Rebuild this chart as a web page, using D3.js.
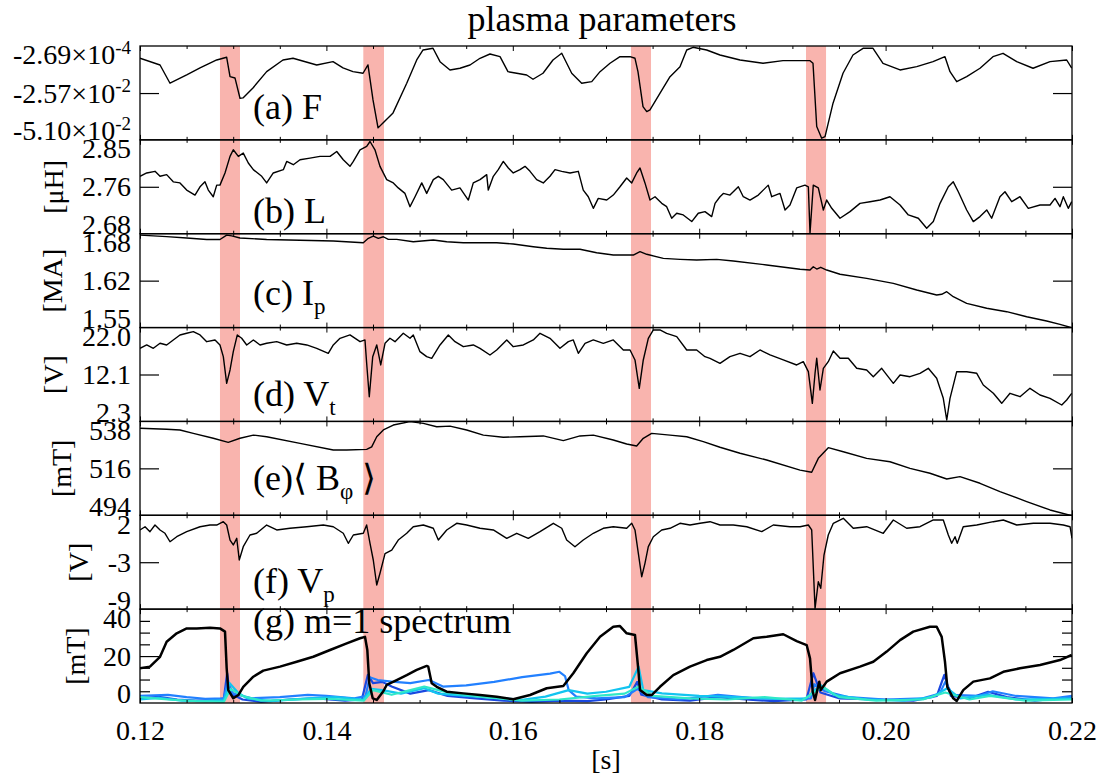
<!DOCTYPE html>
<html>
<head>
<meta charset="utf-8">
<script src="https://cdn.jsdelivr.net/npm/d3@7"></script>
<style>
body { margin: 0; background: #fff; }
text { font-family: "Liberation Serif", "Times New Roman", serif; fill: #000; }
</style>
</head>
<body>
<svg id="chart" width="1105" height="776"></svg>
<script>
// time axis
var xDomain = [0.12, 0.22];
var xMajor = [0.12, 0.14, 0.16, 0.18, 0.20, 0.22];
var xMajorLabels = ["0.12", "0.14", "0.16", "0.18", "0.20", "0.22"];
var xMinor = [0.125, 0.13, 0.135, 0.145, 0.15, 0.155, 0.165, 0.17, 0.175, 0.185, 0.19, 0.195, 0.205, 0.21, 0.215];

// shaded crash windows
var bandStart = [0.12858, 0.14396, 0.17268, 0.19146];
var bandEnd = [0.13073, 0.14618, 0.17483, 0.19361];

// panel texts
var panelLabel = ["(a) F", "(b) L", "(c) I", "(d) V", "(e)\u27E8 B", "(f) V", "(g) m=1 spectrum"];
var panelSub = ["", "", "p", "t", "\u03C6", "p", ""];
var panelTail = ["", "", "", "", " \u27E9", "", ""];
var panelUnit = ["", "[\u03BCH]", "[MA]", "[V]", "[mT]", "[V]", "[mT]"];

// y ticks (bottom, middle, top) and their labels
var yTicks = [
  [-0.0510, -0.0257, -0.000269],
  [2.68, 2.765, 2.85],
  [1.55, 1.615, 1.68],
  [2.3, 12.15, 22.0],
  [494, 516, 538],
  [-9, -3.5, 2],
  [0, 20, 40]
];
var yTickLabels = [
  ["-5.10\u00D710", "-2.57\u00D710", "-2.69\u00D710"],
  ["2.68", "2.76", "2.85"],
  ["1.55", "1.62", "1.68"],
  ["2.3", "12.1", "22.0"],
  ["494", "516", "538"],
  ["-9", "-3", "2"],
  ["0", "20", "40"]
];
var yTickSup = ["-2", "-2", "-4"];
var gMinor = [5, 10, 15, 25, 30, 35];

// (a) F
var seriesF = [[0.12000,-0.00691],[0.12215,-0.01052],[0.12322,-0.02040],[0.12501,-0.01592],[0.12644,-0.01214],[0.12823,-0.00783],[0.12930,-0.00637],[0.12966,-0.01684],[0.13019,-0.01754],[0.13073,-0.02850],[0.13105,-0.02833],[0.13212,-0.02294],[0.13359,-0.01414],[0.13534,-0.00783],[0.13642,-0.00691],[0.13896,-0.01052],[0.14071,-0.00874],[0.14178,-0.01214],[0.14285,-0.01414],[0.14393,-0.01500],[0.14446,-0.01052],[0.14500,-0.02941],[0.14554,-0.04452],[0.14607,-0.04183],[0.14715,-0.03643],[0.14862,-0.02040],[0.14969,-0.00783],[0.15037,-0.00243],[0.15144,-0.00151],[0.15219,-0.00874],[0.15326,-0.01322],[0.15433,-0.01230],[0.15541,-0.01052],[0.15648,-0.00691],[0.15755,-0.00459],[0.15863,-0.00604],[0.15948,-0.01414],[0.16042,-0.01500],[0.16149,-0.01592],[0.16217,-0.01824],[0.16324,-0.01500],[0.16431,-0.00783],[0.16525,-0.00421],[0.16632,-0.01500],[0.16739,-0.02040],[0.16847,-0.01954],[0.16936,-0.01414],[0.17043,-0.00961],[0.17150,-0.00604],[0.17258,-0.00604],[0.17311,-0.00691],[0.17343,-0.01414],[0.17397,-0.03303],[0.17437,-0.03573],[0.17472,-0.03481],[0.17580,-0.02580],[0.17687,-0.01684],[0.17794,-0.01144],[0.17866,-0.00243],[0.17934,-0.00097],[0.18080,-0.00243],[0.18223,-0.00513],[0.18438,-0.00783],[0.18685,-0.00961],[0.18899,-0.00820],[0.19189,-0.00820],[0.19221,-0.00961],[0.19261,-0.04382],[0.19314,-0.05008],[0.19350,-0.04922],[0.19436,-0.03119],[0.19543,-0.01500],[0.19650,-0.00513],[0.19758,-0.00151],[0.19865,-0.00151],[0.19972,-0.00961],[0.20155,-0.01322],[0.20334,-0.01144],[0.20509,-0.00874],[0.20637,-0.00604],[0.20691,-0.01414],[0.20763,-0.01954],[0.20870,-0.01684],[0.21013,-0.01230],[0.21152,-0.00604],[0.21260,-0.00421],[0.21407,-0.00874],[0.21582,-0.01230],[0.21764,-0.00874],[0.21943,-0.00783],[0.21997,-0.01230]];

// (b) L [uH]
var seriesL = [[0.12000,2.784],[0.12072,2.790],[0.12161,2.793],[0.12215,2.784],[0.12286,2.787],[0.12357,2.774],[0.12429,2.772],[0.12501,2.759],[0.12590,2.750],[0.12644,2.765],[0.12697,2.774],[0.12733,2.759],[0.12786,2.747],[0.12823,2.768],[0.12858,2.768],[0.12912,2.790],[0.12966,2.820],[0.13001,2.832],[0.13055,2.820],[0.13108,2.826],[0.13162,2.808],[0.13216,2.796],[0.13306,2.784],[0.13359,2.772],[0.13430,2.790],[0.13538,2.796],[0.13574,2.811],[0.13645,2.805],[0.13717,2.814],[0.13824,2.817],[0.13931,2.820],[0.14039,2.820],[0.14111,2.829],[0.14181,2.814],[0.14253,2.802],[0.14289,2.811],[0.14361,2.832],[0.14432,2.838],[0.14468,2.847],[0.14521,2.832],[0.14575,2.802],[0.14647,2.778],[0.14718,2.772],[0.14771,2.763],[0.14843,2.753],[0.14897,2.729],[0.14951,2.747],[0.15023,2.772],[0.15076,2.753],[0.15147,2.778],[0.15201,2.784],[0.15254,2.778],[0.15344,2.759],[0.15433,2.763],[0.15523,2.741],[0.15576,2.772],[0.15648,2.778],[0.15720,2.787],[0.15737,2.759],[0.15791,2.784],[0.15844,2.796],[0.15898,2.811],[0.15952,2.799],[0.16005,2.790],[0.16077,2.796],[0.16131,2.802],[0.16185,2.793],[0.16256,2.778],[0.16327,2.772],[0.16399,2.784],[0.16453,2.796],[0.16525,2.793],[0.16614,2.790],[0.16703,2.793],[0.16756,2.759],[0.16810,2.747],[0.16864,2.726],[0.16917,2.744],[0.17008,2.741],[0.17078,2.750],[0.17150,2.765],[0.17222,2.781],[0.17276,2.772],[0.17329,2.790],[0.17365,2.799],[0.17418,2.772],[0.17472,2.741],[0.17526,2.747],[0.17598,2.735],[0.17651,2.729],[0.17705,2.708],[0.17759,2.717],[0.17829,2.714],[0.17920,2.702],[0.17990,2.717],[0.18062,2.720],[0.18134,2.711],[0.18170,2.735],[0.18223,2.747],[0.18259,2.753],[0.18330,2.750],[0.18420,2.765],[0.18473,2.747],[0.18545,2.741],[0.18634,2.750],[0.18741,2.768],[0.18778,2.747],[0.18867,2.753],[0.18921,2.723],[0.18974,2.732],[0.19046,2.763],[0.19135,2.768],[0.19171,2.765],[0.19189,2.681],[0.19224,2.768],[0.19278,2.763],[0.19332,2.723],[0.19368,2.741],[0.19422,2.726],[0.19511,2.708],[0.19618,2.720],[0.19725,2.735],[0.19833,2.738],[0.19940,2.741],[0.20047,2.747],[0.20155,2.732],[0.20244,2.714],[0.20351,2.708],[0.20441,2.690],[0.20512,2.702],[0.20584,2.735],[0.20673,2.765],[0.20726,2.774],[0.20780,2.756],[0.20870,2.723],[0.20941,2.702],[0.21013,2.711],[0.21085,2.723],[0.21138,2.708],[0.21227,2.747],[0.21281,2.756],[0.21353,2.738],[0.21442,2.747],[0.21531,2.726],[0.21657,2.732],[0.21764,2.732],[0.21818,2.744],[0.21871,2.729],[0.21907,2.747],[0.21960,2.726],[0.21997,2.738]];

// (c) Ip [MA]
var seriesIp = [[0.12000,1.678],[0.12286,1.676],[0.12501,1.674],[0.12716,1.672],[0.12858,1.672],[0.12930,1.678],[0.12984,1.677],[0.13073,1.674],[0.13359,1.672],[0.13717,1.671],[0.14074,1.670],[0.14396,1.6675],[0.14450,1.6736],[0.14503,1.6768],[0.14557,1.6736],[0.14611,1.6758],[0.14664,1.6722],[0.14754,1.6722],[0.14932,1.6689],[0.15147,1.6713],[0.15291,1.6689],[0.15469,1.6675],[0.15827,1.6675],[0.16005,1.6657],[0.16220,1.6620],[0.16364,1.6598],[0.16542,1.6584],[0.16721,1.6584],[0.16900,1.6537],[0.17078,1.6505],[0.17293,1.6505],[0.17365,1.6551],[0.17437,1.6515],[0.17615,1.6459],[0.17794,1.6445],[0.17973,1.6436],[0.18188,1.6445],[0.18366,1.6422],[0.18724,1.6367],[0.19082,1.6307],[0.19189,1.6297],[0.19224,1.6343],[0.19261,1.6311],[0.19304,1.6335],[0.19368,1.6297],[0.19511,1.6238],[0.19797,1.6182],[0.20083,1.6113],[0.20334,1.6020],[0.20548,1.5951],[0.20602,1.5961],[0.20656,1.5997],[0.20726,1.5927],[0.20870,1.5836],[0.21085,1.5767],[0.21299,1.5720],[0.21514,1.5650],[0.21728,1.5591],[0.21871,1.5545],[0.21997,1.5498]];

// (d) Vt [V]
var seriesVt = [[0.12000,17.65],[0.12072,18.35],[0.12143,17.65],[0.12215,18.70],[0.12286,18.35],[0.12357,19.40],[0.12429,20.45],[0.12501,20.80],[0.12572,21.14],[0.12644,20.45],[0.12716,19.04],[0.12805,19.40],[0.12858,18.35],[0.12894,15.89],[0.12930,10.30],[0.12966,13.10],[0.13001,16.94],[0.13044,20.45],[0.13091,19.75],[0.13145,18.35],[0.13216,19.40],[0.13288,18.35],[0.13359,18.70],[0.13467,19.04],[0.13574,18.35],[0.13681,18.70],[0.13789,18.35],[0.13896,17.65],[0.14020,16.60],[0.14074,18.35],[0.14146,19.75],[0.14253,20.45],[0.14361,19.04],[0.14414,19.40],[0.14432,14.50],[0.14460,7.49],[0.14497,15.89],[0.14540,18.35],[0.14583,14.15],[0.14629,18.70],[0.14682,19.75],[0.14736,19.04],[0.14825,20.80],[0.14897,19.75],[0.14932,20.45],[0.15004,16.94],[0.15076,15.89],[0.15130,15.55],[0.15219,18.35],[0.15308,20.45],[0.15380,19.04],[0.15469,17.99],[0.15576,18.35],[0.15648,17.65],[0.15755,16.25],[0.15827,17.30],[0.15935,19.40],[0.16005,17.99],[0.16113,18.35],[0.16220,19.40],[0.16292,20.80],[0.16399,19.75],[0.16506,17.65],[0.16596,19.04],[0.16649,19.40],[0.16703,16.60],[0.16775,18.70],[0.16864,19.40],[0.16971,18.70],[0.17078,19.40],[0.17186,17.30],[0.17258,17.30],[0.17311,15.20],[0.17357,9.25],[0.17400,15.20],[0.17454,19.75],[0.17508,21.50],[0.17579,21.50],[0.17651,20.80],[0.17759,20.09],[0.17866,17.30],[0.17973,17.30],[0.18062,15.89],[0.18116,15.55],[0.18223,14.50],[0.18330,15.89],[0.18438,16.60],[0.18545,15.89],[0.18652,17.30],[0.18760,16.25],[0.18902,15.20],[0.19046,14.15],[0.19117,14.84],[0.19171,12.74],[0.19214,6.10],[0.19243,12.40],[0.19261,15.55],[0.19296,8.90],[0.19332,13.45],[0.19385,14.84],[0.19439,17.09],[0.19511,15.55],[0.19600,15.55],[0.19690,13.45],[0.19797,13.10],[0.19868,11.69],[0.19958,13.45],[0.20083,10.30],[0.20155,12.05],[0.20262,11.69],[0.20369,12.40],[0.20458,13.45],[0.20548,11.35],[0.20619,7.15],[0.20656,2.60],[0.20691,7.15],[0.20763,12.74],[0.20870,12.74],[0.20978,12.40],[0.21048,9.95],[0.21156,8.20],[0.21246,6.10],[0.21335,8.20],[0.21442,7.49],[0.21549,9.25],[0.21657,7.85],[0.21764,7.15],[0.21890,5.75],[0.21943,6.80],[0.21997,8.20]];

// (e) <B_phi> [mT]
var seriesB = [[0.12000,534.8],[0.12286,534.3],[0.12429,534.0],[0.12572,532.4],[0.12786,530.1],[0.12947,528.2],[0.13073,530.1],[0.13216,531.6],[0.13359,530.8],[0.13717,527.7],[0.14074,524.6],[0.14218,524.6],[0.14432,524.9],[0.14486,526.1],[0.14540,530.8],[0.14611,534.0],[0.14718,536.3],[0.14897,537.9],[0.15040,537.1],[0.15184,535.5],[0.15326,535.8],[0.15505,534.0],[0.15684,531.6],[0.15898,530.6],[0.16077,530.8],[0.16327,531.2],[0.16542,529.0],[0.16721,531.2],[0.16864,531.6],[0.17078,529.3],[0.17222,527.4],[0.17329,526.5],[0.17400,530.1],[0.17490,532.4],[0.17687,531.6],[0.17866,530.8],[0.18044,528.5],[0.18223,525.9],[0.18438,523.1],[0.18724,519.9],[0.19082,515.2],[0.19207,514.2],[0.19278,520.7],[0.19385,525.7],[0.19546,523.8],[0.19797,520.7],[0.20047,519.1],[0.20262,516.0],[0.20476,513.7],[0.20656,511.0],[0.20798,512.1],[0.21013,509.0],[0.21227,505.1],[0.21514,500.4],[0.21764,496.5],[0.21997,493.8]];

// (f) Vp [V]
var seriesVp = [[0.12000,0.28],[0.12054,0.66],[0.12107,0.08],[0.12161,0.86],[0.12215,0.28],[0.12268,-0.11],[0.12322,-1.10],[0.12394,-0.51],[0.12501,0.08],[0.12644,0.66],[0.12751,0.86],[0.12823,0.86],[0.12894,1.25],[0.12930,0.86],[0.12966,-0.90],[0.13001,-1.48],[0.13038,-0.70],[0.13065,-3.24],[0.13108,-1.68],[0.13180,-0.31],[0.13252,-0.11],[0.13359,0.86],[0.13467,0.28],[0.13609,0.48],[0.13789,0.66],[0.13967,0.86],[0.14074,0.66],[0.14181,-0.11],[0.14235,-1.28],[0.14289,-0.31],[0.14396,-0.11],[0.14432,0.86],[0.14468,-1.28],[0.14503,-3.24],[0.14540,-6.17],[0.14575,-4.80],[0.14629,-2.50],[0.14701,-2.07],[0.14771,-0.90],[0.14862,-0.11],[0.14932,0.66],[0.15040,0.86],[0.15147,0.48],[0.15201,-0.90],[0.15291,0.28],[0.15398,1.06],[0.15505,0.86],[0.15648,0.48],[0.15791,0.28],[0.15935,-0.70],[0.16042,-0.11],[0.16166,-0.70],[0.16292,0.08],[0.16435,1.06],[0.16525,0.48],[0.16578,-0.90],[0.16667,-1.68],[0.16756,-0.90],[0.16864,-0.11],[0.16971,0.48],[0.17078,0.66],[0.17222,0.48],[0.17276,1.06],[0.17311,0.28],[0.17347,-2.46],[0.17383,-5.20],[0.17418,-3.63],[0.17454,-1.68],[0.17508,-0.51],[0.17598,0.28],[0.17687,0.48],[0.17794,1.06],[0.17901,0.86],[0.18009,1.06],[0.18116,1.25],[0.18223,0.86],[0.18366,0.86],[0.18510,0.66],[0.18671,0.08],[0.18795,0.86],[0.18974,0.66],[0.19082,0.66],[0.19171,0.86],[0.19207,0.28],[0.19243,-8.91],[0.19278,-5.79],[0.19304,-6.56],[0.19339,-2.66],[0.19385,-0.31],[0.19439,1.06],[0.19546,1.65],[0.19653,0.48],[0.19797,0.66],[0.19975,-0.11],[0.20083,1.45],[0.20226,0.48],[0.20369,0.66],[0.20512,1.45],[0.20619,1.45],[0.20673,-0.31],[0.20709,-1.28],[0.20745,-0.51],[0.20769,-1.28],[0.20833,0.66],[0.20978,0.86],[0.21156,1.25],[0.21263,1.45],[0.21407,0.86],[0.21585,1.06],[0.21764,1.06],[0.21907,0.86],[0.21979,0.66],[0.22000,-0.70]];

// (g) m=1 spectrum [mT]: total (black) and single modes (blues, cyans)
var seriesM1 = [[0.12000,14.8],[0.12107,15.5],[0.12215,19.7],[0.12286,26.1],[0.12394,29.7],[0.12501,31.8],[0.12608,31.8],[0.12751,32.1],[0.12858,31.8],[0.12912,30.4],[0.12930,14.8],[0.12947,5.5],[0.13001,2.0],[0.13055,3.4],[0.13108,6.9],[0.13216,11.2],[0.13323,13.8],[0.13502,15.5],[0.13681,17.6],[0.13859,19.7],[0.14039,22.6],[0.14218,25.4],[0.14361,27.6],[0.14414,28.2],[0.14439,22.6],[0.14460,8.4],[0.14497,2.0],[0.14540,1.3],[0.14611,5.0],[0.14647,7.7],[0.14754,9.8],[0.14862,11.9],[0.14969,14.1],[0.15076,15.8],[0.15093,15.5],[0.15130,8.4],[0.15184,6.9],[0.15291,4.8],[0.15469,4.1],[0.15648,3.4],[0.15827,2.7],[0.16005,1.6],[0.16185,3.4],[0.16364,6.3],[0.16542,7.2],[0.16649,12.7],[0.16793,21.2],[0.16936,28.2],[0.17078,32.5],[0.17150,32.8],[0.17222,29.7],[0.17311,29.0],[0.17347,14.1],[0.17365,5.5],[0.17437,3.4],[0.17490,3.4],[0.17579,6.9],[0.17722,11.9],[0.17901,15.5],[0.18080,18.3],[0.18223,19.7],[0.18366,22.6],[0.18581,27.6],[0.18724,28.2],[0.18902,29.3],[0.19046,26.4],[0.19153,24.7],[0.19189,19.0],[0.19218,4.8],[0.19243,1.3],[0.19267,5.5],[0.19289,9.1],[0.19304,5.5],[0.19368,9.1],[0.19511,12.7],[0.19725,15.5],[0.19868,17.6],[0.20012,21.9],[0.20155,26.8],[0.20297,30.4],[0.20476,32.5],[0.20548,32.5],[0.20602,28.2],[0.20637,17.6],[0.20662,6.9],[0.20726,2.0],[0.20763,0.9],[0.20833,5.5],[0.20941,9.1],[0.21120,10.5],[0.21263,13.3],[0.21442,14.8],[0.21657,16.2],[0.21871,18.3],[0.21997,20.5]];
var seriesMode1 = [[0.1200,2.0],[0.1220,2.6],[0.1240,1.5],[0.1260,1.0],[0.1280,1.2],[0.1290,2.0],[0.12935,12.7],[0.1296,5.0],[0.1300,3.5],[0.1310,1.5],[0.1330,0.5],[0.1360,1.5],[0.1390,2.0],[0.1420,1.0],[0.1438,1.5],[0.14445,12.0],[0.1450,8.5],[0.1460,9.0],[0.1470,7.0],[0.1490,4.0],[0.1510,5.5],[0.1530,3.0],[0.1560,2.0],[0.1590,1.0],[0.1620,0.5],[0.1650,1.0],[0.1680,0.8],[0.1700,1.5],[0.1725,3.0],[0.17335,9.0],[0.1738,3.5],[0.1760,1.5],[0.1790,1.0],[0.1820,2.5],[0.1850,1.5],[0.1880,0.8],[0.1915,1.5],[0.19225,12.7],[0.1930,4.5],[0.1950,2.0],[0.1990,1.5],[0.2030,1.0],[0.2055,3.0],[0.20630,12.0],[0.2070,3.0],[0.2090,2.0],[0.2110,4.8],[0.2130,2.5],[0.2160,1.0],[0.2200,2.5]];
var seriesMode2 = [[0.1200,3.0],[0.1230,3.5],[0.1250,2.5],[0.1270,1.8],[0.1290,2.0],[0.1294,9.0],[0.1300,4.0],[0.1320,2.0],[0.1350,2.5],[0.1380,3.5],[0.1400,3.0],[0.1430,2.0],[0.1442,3.0],[0.14465,11.0],[0.1455,9.8],[0.1470,9.1],[0.1490,8.5],[0.1510,9.8],[0.1525,7.0],[0.1550,7.5],[0.1580,9.0],[0.1610,11.0],[0.1640,12.5],[0.1650,13.3],[0.1656,11.5],[0.1660,5.5],[0.1668,2.7],[0.1690,2.0],[0.1720,2.5],[0.1734,6.0],[0.1745,2.5],[0.1780,1.5],[0.1820,3.5],[0.1860,2.0],[0.1900,1.5],[0.1920,2.0],[0.19235,8.0],[0.1935,5.0],[0.1960,2.5],[0.2000,1.5],[0.2040,2.0],[0.2058,4.0],[0.20640,9.0],[0.2072,3.5],[0.2100,3.0],[0.2115,5.0],[0.2140,3.0],[0.2180,2.0],[0.2200,3.0]];
var seriesMode3 = [[0.1200,1.5],[0.1220,2.2],[0.1245,1.0],[0.1270,0.8],[0.1290,1.2],[0.12960,8.5],[0.1305,4.5],[0.1315,2.0],[0.1340,0.8],[0.1380,2.0],[0.1410,2.5],[0.1440,1.5],[0.14480,6.0],[0.1460,5.5],[0.1480,4.0],[0.1505,6.3],[0.1520,4.0],[0.1550,3.0],[0.1590,2.0],[0.1610,1.3],[0.1635,2.7],[0.1660,5.5],[0.1680,4.0],[0.1700,4.8],[0.1725,6.9],[0.17350,15.5],[0.1740,5.5],[0.1760,4.1],[0.1800,3.0],[0.1840,2.5],[0.1880,1.8],[0.1915,2.0],[0.19300,7.7],[0.1945,3.4],[0.1980,1.5],[0.2020,1.0],[0.2050,2.5],[0.2066,6.3],[0.2080,2.0],[0.2110,3.5],[0.2140,1.5],[0.2180,1.8],[0.2200,2.0]];
var seriesMode4 = [[0.1200,2.5],[0.1230,1.5],[0.1260,0.8],[0.1290,0.5],[0.12970,6.0],[0.1310,3.0],[0.1330,1.0],[0.1370,1.5],[0.1400,1.8],[0.1440,1.0],[0.14500,5.5],[0.1470,3.5],[0.1505,7.0],[0.1530,4.5],[0.1570,2.5],[0.1610,1.0],[0.1650,1.5],[0.1690,3.0],[0.1720,4.0],[0.1735,7.0],[0.1750,3.0],[0.1790,2.0],[0.1830,1.5],[0.1870,2.5],[0.1910,1.0],[0.1932,6.9],[0.1950,2.5],[0.1990,1.0],[0.2040,1.5],[0.2064,4.5],[0.2090,1.5],[0.2112,3.0],[0.2150,1.0],[0.2200,1.5]];

var panelSeries = [
  [seriesF], [seriesL], [seriesIp], [seriesVt], [seriesB], [seriesVp],
  [seriesMode1, seriesMode2, seriesMode3, seriesMode4, seriesM1]
];
var modeColors = ["#1a48e0", "#2280ff", "#12c4f0", "#30e8c8", "#000000"];

var W = 1105, H = 776;
var plotLeft = 140, plotRight = 1072, plotTop = 46, plotBottom = 703;
var ph = (plotBottom - plotTop) / 7;
var unitX = [0, 53, 52, 53, 61, 78, 75];
var labelBase = [119, 223, 305, 406, 490, 593, 633];

var svg = d3.select("#chart");
svg.append("rect").attr("width", W).attr("height", H).attr("fill", "#fff");

var x = d3.scaleLinear().domain(xDomain).range([plotLeft, plotRight]);

svg.append("g").selectAll("rect")
    .data(bandStart)
    .enter().append("rect")
    .attr("x", function(d) { return x(d); })
    .attr("width", function(d, i) { return x(bandEnd[i]) - x(d); })
    .attr("y", plotTop)
    .attr("height", plotBottom - plotTop)
    .attr("fill", "#f9b4ae");

var defs = svg.append("defs");

panelSeries.forEach(function(list, p) {
    var pt = plotTop + p * ph;
    var pb = pt + ph;
    var ticks = yTicks[p];
    var y = d3.scaleLinear().domain([ticks[0], ticks[2]]).range([pb, pt]);

    defs.append("clipPath").attr("id", "clip" + p)
        .append("rect").attr("x", plotLeft).attr("y", pt).attr("width", plotRight - plotLeft).attr("height", ph);

    var line = d3.line()
        .x(function(d) { return x(d[0]); })
        .y(function(d) { return y(d[1]); });

    var g = svg.append("g");
    g.selectAll("path.series")
        .data(list)
        .enter().append("path")
        .attr("class", "series")
        .attr("clip-path", "url(#clip" + p + ")")
        .attr("d", line)
        .attr("fill", "none")
        .attr("stroke-linejoin", "round")
        .attr("stroke", function(d, i) { return p == 6 ? modeColors[i] : "#000"; })
        .attr("stroke-width", function(d, i) { return p == 6 ? (i == 4 ? 2.5 : 2.2) : 1.4; });

    // frame
    g.append("rect")
        .attr("x", plotLeft).attr("y", pt).attr("width", plotRight - plotLeft).attr("height", ph)
        .attr("fill", "none").attr("stroke", "#000").attr("stroke-width", 1.3);

    // y tick labels
    var yAxis = g.append("g")
        .attr("transform", "translate(" + plotLeft + ",0)")
        .call(d3.axisLeft(y).tickValues(ticks).tickSize(0).tickPadding(9)
            .tickFormat(function(d, i) { return yTickLabels[p][i]; }));
    yAxis.select(".domain").remove();
    yAxis.selectAll("text")
        .attr("font-size", "28px")
        .attr("font-family", "Liberation Serif, Times New Roman, serif")
        .attr("y", function(d, i) { return i == 0 ? -9 : (i == 2 ? 9 : 0); });
    if (p == 0) {
        yAxis.selectAll("text").each(function(d, i) {
            d3.select(this).append("tspan")
                .attr("dy", "-0.55em")
                .attr("font-size", "19px")
                .text(yTickSup[i]);
        });
    }

    // inner y ticks, both sides
    var inner = p == 6 ? [20] : [ticks[1]];
    [[plotLeft, d3.axisRight], [plotRight, d3.axisLeft]].forEach(function(s) {
        var a = g.append("g").attr("transform", "translate(" + s[0] + ",0)")
            .call(s[1](y).tickValues(inner).tickSize(19).tickFormat(""));
        a.select(".domain").remove();
        a.selectAll("line").attr("stroke-width", 1.2);
        if (p == 6) {
            var m = g.append("g").attr("transform", "translate(" + s[0] + ",0)")
                .call(s[1](y).tickValues(gMinor).tickSize(10).tickFormat(""));
            m.select(".domain").remove();
            m.selectAll("line").attr("stroke-width", 1.2);
        }
    });

    // x ticks on top and bottom edges, pointing inwards
    [[pt, d3.axisBottom], [pb, d3.axisTop]].forEach(function(s) {
        var a1 = g.append("g").attr("transform", "translate(0," + s[0] + ")")
            .call(s[1](x).tickValues(xMinor).tickSize(3).tickFormat(""));
        a1.select(".domain").remove();
        var a2 = g.append("g").attr("transform", "translate(0," + s[0] + ")")
            .call(s[1](x).tickValues(xMajor).tickSize(5).tickFormat(""));
        a2.select(".domain").remove();
    });

    // unit label
    if (panelUnit[p]) {
        g.append("text")
            .attr("transform", "translate(" + unitX[p] + "," + (pt + ph / 2) + ") rotate(-90)")
            .attr("text-anchor", "middle")
            .attr("dominant-baseline", "central")
            .style("font-size", "28px")
            .text(panelUnit[p]);
    }

    // panel label
    var lab = g.append("text")
        .attr("x", 253)
        .attr("y", labelBase[p])
        .style("font-size", "36px")
        .text(panelLabel[p]);
    if (panelSub[p]) {
        lab.append("tspan").attr("dy", 9).style("font-size", "23px").text(panelSub[p]);
    }
    if (panelTail[p]) {
        lab.append("tspan").attr("dy", -9).style("font-size", "36px").text(panelTail[p]);
    }
});

// bottom time axis labels
var xAxis = svg.append("g")
    .attr("transform", "translate(0," + plotBottom + ")")
    .call(d3.axisBottom(x).tickValues(xMajor).tickSize(0).tickPadding(17)
        .tickFormat(function(d, i) { return xMajorLabels[i]; }));
xAxis.select(".domain").remove();
xAxis.selectAll("text")
    .attr("font-size", "28px")
    .attr("font-family", "Liberation Serif, Times New Roman, serif");

svg.append("text")
    .attr("x", 606).attr("y", 769)
    .attr("text-anchor", "middle")
    .style("font-size", "28px")
    .text("[s]");

svg.append("text")
    .attr("x", 602).attr("y", 31)
    .attr("text-anchor", "middle")
    .style("font-size", "36px")
    .text("plasma parameters");
</script>
</body>
</html>
